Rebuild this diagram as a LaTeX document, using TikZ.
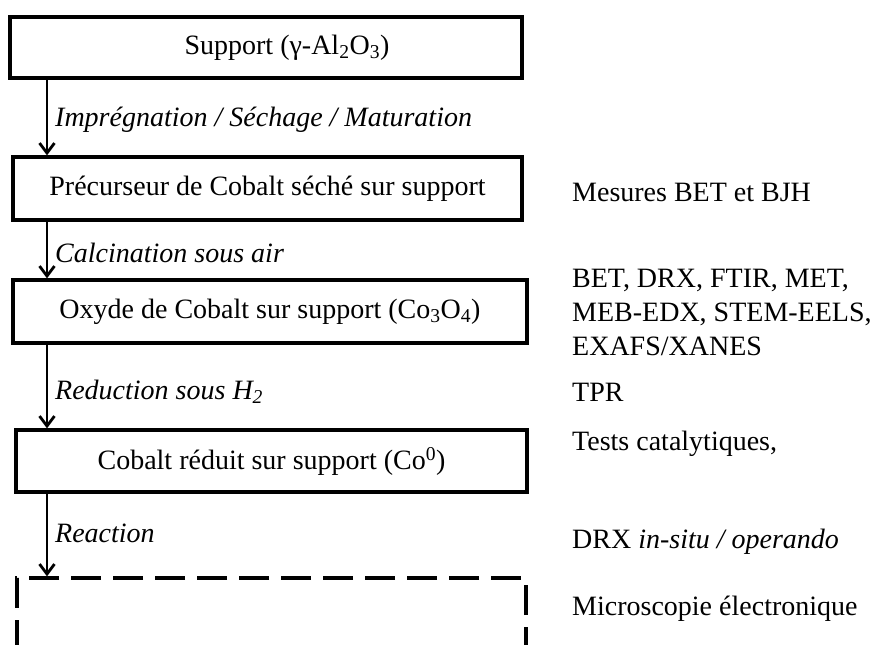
\documentclass[tikz,border=0pt]{standalone}
\usepackage{fontspec}
\setmainfont{Liberation Serif}
\usetikzlibrary{arrows.meta}

\begin{document}
\begin{tikzpicture}[x=1pt,y=-1pt,
 etape/.style={draw,line width=3.2pt,inner sep=0pt,font=\fontsize{28}{34}\selectfont},
 fleche/.style={line width=2.8pt,-{Straight Barb[length=10pt,width=15pt,line width=2.8pt]}},
 operation/.style={anchor=west,inner sep=0pt,font=\fontsize{28}{34}\selectfont\itshape},
 analyse/.style={anchor=west,inner sep=0pt,align=left,font=\fontsize{28}{34}\selectfont}]
 \useasboundingbox (0,0) rectangle (879,645);
 \clip (0,0) rectangle (879,645);
 % les etapes de preparation
 \node[etape,minimum width=512pt,minimum height=61pt] (support) at (266,47.5) {\hspace*{42pt}Support (γ-Al\textsubscript{2}O\textsubscript{3})};
 \node[etape,minimum width=509pt,minimum height=63pt] (precurseur) at (267.5,188.5) {Précurseur de Cobalt séché sur support};
 \node[etape,minimum width=514pt,minimum height=63pt] (oxyde) at (270,311.5) {Oxyde de Cobalt sur support (Co\textsubscript{3}O\textsubscript{4})};
 \node[etape,minimum width=511pt,minimum height=62pt] (reduit) at (271.5,461) {Cobalt réduit sur support (Co\textsuperscript{0})};
 \node[etape,dashed,dash pattern=on 30pt off 12pt,minimum width=509pt,minimum height=200pt] (suite) at (271.5,678) {};
 % les fleches
 \coordinate (axe) at (47,0);
 \draw[fleche] (support.south -| axe) -- (precurseur.north -| axe);
 \draw[fleche] (precurseur.south -| axe) -- (oxyde.north -| axe);
 \draw[fleche] (oxyde.south -| axe) -- (reduit.north -| axe);
 \draw[fleche] (reduit.south -| axe) -- (suite.north -| axe);
 \node[operation] (impregnation) at (55,120) {Imprégnation / Séchage / Maturation};
 \node[operation] (calcination) at (55,253) {Calcination sous air};
 \node[operation] (reduction) at (55,392) {Reduction sous H\textsubscript{2}};
 \node[operation] (reaction) at (55,533) {Reaction};
 % les caracterisations
 \node[analyse] (bjh) at (572,192) {Mesures BET et BJH};
 \node[analyse] (carac) at (572,312) {BET, DRX, FTIR, MET,\\MEB-EDX, STEM-EELS,\\EXAFS/XANES};
 \node[analyse] (tpr) at (572,392) {TPR};
 \node[analyse] (tests) at (572,444) {Tests catalytiques,};
 \node[analyse] (drx) at (572,542) {DRX \textit{in-situ / operando}};
 \node[analyse] (micro) at (572,609) {Microscopie électronique};
\end{tikzpicture}
\end{document}
